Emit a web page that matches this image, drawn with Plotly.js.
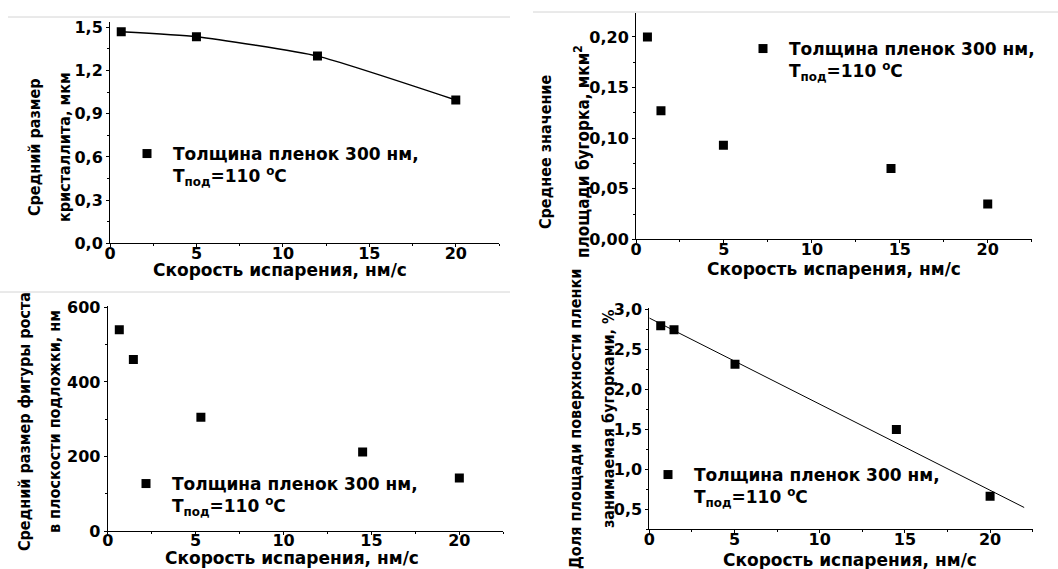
<!DOCTYPE html>
<html>
<head>
<meta charset="utf-8">
<script src="https://cdn.plot.ly/plotly-3.0.1.min.js"></script>
<style>html,body{margin:0;padding:0;background:#fff;}#chart{width:1058px;height:569px;}</style>
</head>
<body>
<div id="chart"></div>
<script>
// Panel 1: crystallite size
const rate1 = [0.65, 5, 12, 20];
const size1 = [1.47, 1.435, 1.30, 0.995];
// Panel 2: hillock area
const rate2 = [0.65, 1.42, 4.97, 14.5, 20];
const area2 = [0.200, 0.127, 0.093, 0.070, 0.035];
// Panel 3: growth figure size
const rate3 = [0.66, 1.46, 5.3, 14.5, 20];
const size3 = [540, 460, 305, 212, 142];
// Panel 4: surface share
const rate4 = [0.67, 1.45, 5.03, 14.5, 20];
const share4 = [2.80, 2.75, 2.315, 1.50, 0.665];
// Panel 4 linear fit endpoints
const fitX = [0, 22];
const fitY = [2.895, 0.523];

const xTicks = [0, 5, 10, 15, 20];
const legendName = '\u00a0Толщина пленок 300 нм,<br>\u00a0T<sub>под</sub>=110 <sup>o</sup>C';
const xTitle = 'Скорость испарения, нм/с';
const yTitles = [
  ['Средний размер', 'кристаллита, мкм'],
  ['Среднее значение', 'площади бугорка, мкм<sup>2</sup>'],
  ['Средний размер фигуры роста', 'в плоскости подложки, нм'],
  ['Доля площади поверхности пленки', 'занимаемая бугорками, %']
];

const W = 1058, H = 569;
const px = v => v / W;
const py = v => 1 - v / H;

const mk = {symbol: 'square', size: 9, color: '#000'};
const traces = [
  {x: rate1, y: size1, xaxis: 'x', yaxis: 'y', mode: 'lines', line: {color: '#000', width: 1.5, shape: 'spline', smoothing: 0.5}, showlegend: false, hoverinfo: 'skip'},
  {x: rate1, y: size1, xaxis: 'x', yaxis: 'y', mode: 'markers', marker: mk, name: legendName, legend: 'legend'},
  {x: rate2, y: area2, xaxis: 'x2', yaxis: 'y2', mode: 'markers', marker: mk, name: legendName, legend: 'legend2'},
  {x: rate3, y: size3, xaxis: 'x3', yaxis: 'y3', mode: 'markers', marker: mk, name: legendName, legend: 'legend3'},
  {x: fitX, y: fitY, xaxis: 'x4', yaxis: 'y4', mode: 'lines', line: {color: '#000', width: 1}, showlegend: false, hoverinfo: 'skip'},
  {x: rate4, y: share4, xaxis: 'x4', yaxis: 'y4', mode: 'markers', marker: mk, name: legendName, legend: 'legend4'}
];

const tickFont = {family: 'DejaVu Sans', size: 16, color: '#000', weight: 'bold'};
function xax(d, anchor) {
  return {domain: d, anchor: anchor, range: [0, 22.5], tickvals: xTicks, showline: true, linecolor: '#000', linewidth: 1,
    ticks: 'outside', ticklen: 3, tickcolor: '#000', showgrid: false, zeroline: false, tickfont: tickFont, ticklabelstandoff: -8,
    minor: {ticks: 'outside', ticklen: 2, dtick: 2.5, tick0: 0, tickcolor: '#000', showgrid: false}};
}
function yax(d, anchor, range, dtick, fmt, minorD, tick0) {
  return {domain: d, anchor: anchor, range: range, dtick: dtick, tick0: tick0 || 0, tickformat: fmt, showline: true,
    linecolor: '#000', linewidth: 1, ticks: 'outside', ticklen: 3, tickcolor: '#000', showgrid: false, zeroline: false,
    tickfont: tickFont, minor: {ticks: 'outside', ticklen: 2, dtick: minorD, tick0: tick0 || 0, tickcolor: '#000', showgrid: false}};
}

const legFont = {family: 'DejaVu Sans', size: 17, color: '#000', weight: 'bold'};
function leg(x, y) {
  return {x: x, y: y, xanchor: 'left', yanchor: 'top', bgcolor: 'rgba(0,0,0,0)', borderwidth: 0, font: legFont, valign: 'top', itemclick: false};
}

// y title centers (px): [x1, x2, y, size2]
const yTitlePos = [[34, 64, 147, 16], [545, 582, 152, 17], [24, 54, 422, 16], [575, 608, 419, 16]];
const xTitlePos = [[280, 270], [834, 269], [292, 558], [850, 560]];
const annotations = [];
const ytFont = s => ({family: 'DejaVu Sans Condensed, DejaVu Sans', size: s, color: '#000', weight: 'bold'});
yTitles.forEach((t, i) => {
  const p = yTitlePos[i];
  annotations.push({text: t[0], xref: 'paper', yref: 'paper', x: px(p[0]), y: py(p[2]), xanchor: 'center', yanchor: 'middle', textangle: -90, showarrow: false, font: ytFont(16)});
  annotations.push({text: t[1], xref: 'paper', yref: 'paper', x: px(p[1]), y: py(p[2]), xanchor: 'center', yanchor: 'middle', textangle: -90, showarrow: false, font: ytFont(p[3])});
});
xTitlePos.forEach(p => {
  annotations.push({text: xTitle, xref: 'paper', yref: 'paper', x: px(p[0]), y: py(p[1]), xanchor: 'center', yanchor: 'middle', showarrow: false,
    font: {family: 'DejaVu Sans', size: 17, color: '#000', weight: 'bold'}});
});

const sepLine = {color: '#d4d4d4', width: 1};
const shapes = [
  {type: 'line', xref: 'paper', yref: 'paper', x0: px(8), x1: px(510), y0: py(17), y1: py(17), line: sepLine},
  {type: 'line', xref: 'paper', yref: 'paper', x0: px(533), x1: 1, y0: py(12), y1: py(12), line: sepLine},
  {type: 'line', xref: 'paper', yref: 'paper', x0: 0, x1: px(510), y0: py(292), y1: py(292), line: sepLine}
];

const layout = {
  width: W, height: H, margin: {l: 0, r: 0, t: 0, b: 0}, paper_bgcolor: '#fff', plot_bgcolor: 'rgba(0,0,0,0)',
  separators: ', ', font: {family: 'DejaVu Sans', color: '#000'},
  xaxis: xax([px(110), px(499)], 'y'),
  yaxis: yax([py(243.3), py(21.7)], 'x', [0, 1.539], 0.3, '.1f', 0.15),
  xaxis2: xax([px(636), px(1031.7)], 'y2'),
  yaxis2: yax([py(239.3), py(12.7)], 'x2', [0, 0.224], 0.05, '.2f', 0.025),
  xaxis3: xax([px(107.7), px(503.3)], 'y3'),
  yaxis3: yax([py(531), py(305.5)], 'x3', [0, 605], 200, 'd', 100),
  xaxis4: xax([px(649.3), px(1032.7)], 'y4'),
  yaxis4: yax([py(529.3), py(308.3)], 'x4', [0.25, 3.017], 0.5, '.1f', 0.25, 0.5),
  legend: leg(px(127), py(136)),
  legend2: leg(px(743), py(31)),
  legend3: leg(px(126), py(466)),
  legend4: leg(px(648), py(457)),
  annotations: annotations,
  shapes: shapes,
  showlegend: true
};

Plotly.newPlot('chart', traces, layout, {displayModeBar: false, staticPlot: true});
</script>
</body>
</html>
